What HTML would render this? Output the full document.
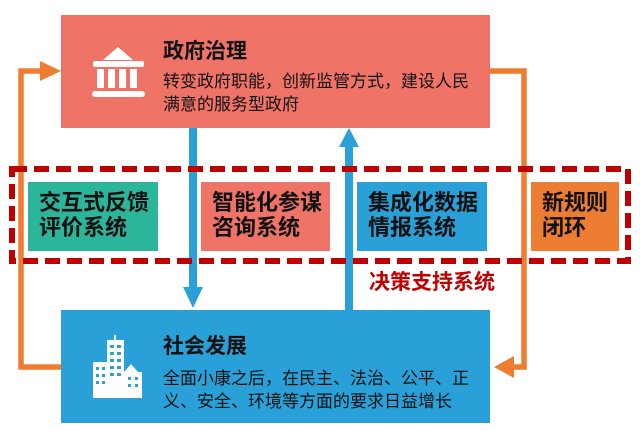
<!DOCTYPE html>
<html><head><meta charset="utf-8"><style>
body{margin:0;width:640px;height:431px;background:#fff;position:relative;overflow:hidden;font-family:"Liberation Sans","Noto Sans CJK SC",sans-serif}
.a{position:absolute}
.t{font-weight:bold;font-size:21px;color:#111;white-space:nowrap}
.b{font-size:17px;color:#111;line-height:23px;white-space:nowrap}
.ib{position:absolute;top:182px;height:69px;font-weight:bold;font-size:22px;color:#111;line-height:25px;box-sizing:border-box;padding:8px 0 0 11px;white-space:nowrap}
</style></head><body>
<div class="a" style="left:61px;top:15px;width:429px;height:113px;background:#f07368"></div>
<div class="a" style="left:61px;top:310px;width:429px;height:113px;background:#29a0d8"></div>
<svg class="a" style="left:0;top:0" width="640" height="431">
 <polyline points="61,367 21,367 21,71 42,71" fill="none" stroke="#ed7d31" stroke-width="5.5"/>
 <polygon points="40,61 61,71 40,81" fill="#ed7d31"/>
 <polyline points="490,71 524,71 524,367 512,367" fill="none" stroke="#ed7d31" stroke-width="5.5"/>
 <polygon points="514,356 494,367 514,378" fill="#ed7d31"/>
 <rect x="189" y="128" width="8" height="162" fill="#29a0d8"/>
 <polygon points="183,287 203,287 193,308" fill="#29a0d8"/>
 <rect x="345" y="145" width="8" height="165" fill="#29a0d8"/>
 <polygon points="339,147 359,147 349,128" fill="#29a0d8"/>
 <g fill="#fff">
  <polygon points="118,47 103,60 133,60"/>
  <rect x="93" y="61" width="51" height="6" rx="2"/>
  <rect x="97" y="69" width="7" height="19"/><rect x="108" y="69" width="7" height="19"/><rect x="119" y="69" width="7" height="19"/><rect x="130" y="69" width="7" height="19"/>
  <rect x="92" y="91" width="53" height="6" rx="3"/>
  <rect x="107" y="340" width="17" height="58"/><rect x="114" y="335" width="2" height="6"/>
  <rect x="93" y="362" width="15" height="36"/>
  <polygon points="124,372 131,364 138,372 142,372 142,398 124,398"/>
 </g>
 <g fill="#29a0d8">
  <rect x="110" y="345" width="4" height="3"/><rect x="117" y="345" width="4" height="3"/>
  <rect x="110" y="352" width="4" height="3"/><rect x="117" y="352" width="4" height="3"/>
  <rect x="110" y="359" width="4" height="3"/><rect x="117" y="359" width="4" height="3"/>
  <rect x="110" y="366" width="4" height="3"/><rect x="117" y="366" width="4" height="3"/>
  <rect x="110" y="373" width="4" height="3"/><rect x="117" y="373" width="4" height="3"/>
  <rect x="96" y="367" width="3" height="3"/><rect x="102" y="367" width="3" height="3"/>
  <rect x="96" y="374" width="3" height="3"/><rect x="102" y="374" width="3" height="3"/>
  <rect x="96" y="381" width="3" height="3"/><rect x="102" y="381" width="3" height="3"/>
  <rect x="128" y="377" width="3" height="3"/><rect x="135" y="377" width="3" height="3"/>
  <rect x="128" y="384" width="3" height="3"/><rect x="135" y="384" width="3" height="3"/>
 </g>
</svg>
<div class="a t" style="left:163px;top:35px">政府治理</div>
<div class="a b" style="left:163px;top:70px">转变政府职能，创新监管方式，建设人民<br>满意的服务型政府</div>
<div class="a t" style="left:163px;top:330px">社会发展</div>
<div class="a b" style="left:163px;top:367px">全面小康之后，在民主、法治、公平、正<br>义、安全、环境等方面的要求日益增长</div>
<div class="ib" style="left:28px;width:130px;background:#2bb59b">交互式反馈<br>评价系统</div>
<div class="ib" style="left:201px;width:129px;background:#f07368">智能化参谋<br>咨询系统</div>
<div class="ib" style="left:357px;width:130px;background:#29a0d8">集成化数据<br>情报系统</div>
<div class="ib" style="left:531px;width:88px;background:#ed7d31">新规则<br>闭环</div>
<svg class="a" style="left:0;top:0" width="640" height="431">
 <rect x="12" y="169" width="616" height="92" fill="none" stroke="#c00000" stroke-width="6" stroke-dasharray="15,7"/>
</svg>
<div class="a" style="left:369px;top:266px;font-size:21px;font-weight:bold;color:#c00000;white-space:nowrap">决策支持系统</div>
</body></html>
